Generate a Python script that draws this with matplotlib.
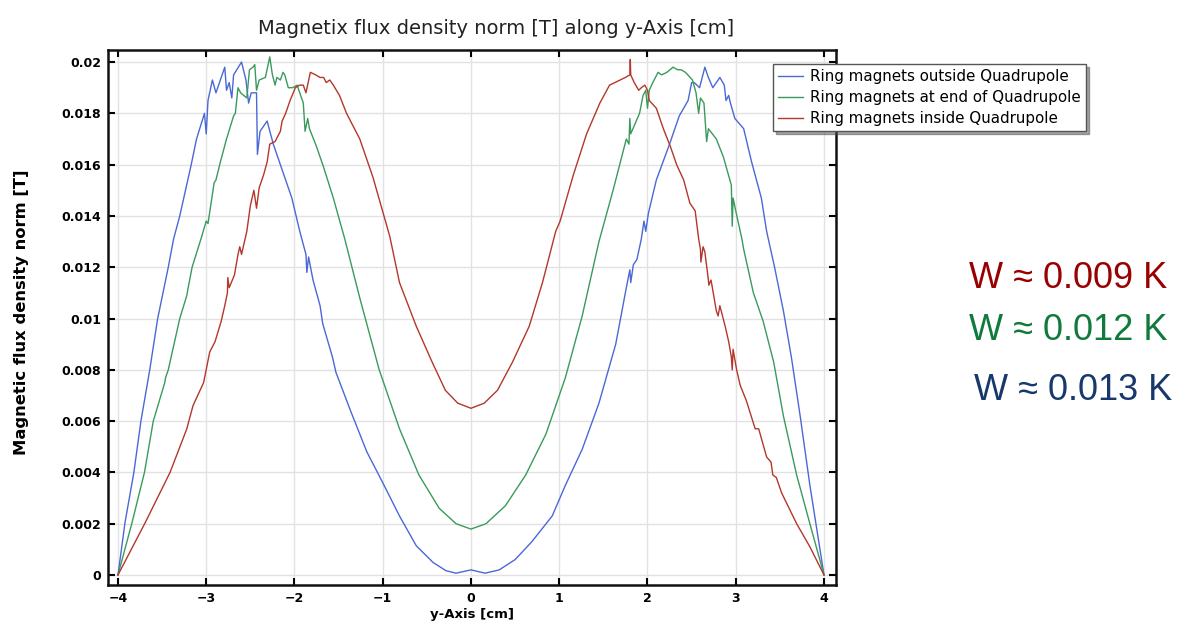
import numpy as np
import matplotlib
matplotlib.use('Agg')
import matplotlib.pyplot as plt
from matplotlib.ticker import FuncFormatter

# Ring magnets outside Quadrupole (blue)
x_out = [-4.0, -3.92, -3.82, -3.74, -3.64, -3.55, -3.43, -3.37, -3.30, -3.17, -3.11, -3.02, -3.00, -2.98,
         -2.93, -2.89, -2.82, -2.79, -2.77, -2.74, -2.71, -2.69, -2.60, -2.55, -2.52, -2.49, -2.43, -2.42,
         -2.39, -2.31, -2.24, -2.15, -2.03, -1.94, -1.87, -1.86, -1.84, -1.79, -1.71, -1.68, -1.57, -1.53,
         -1.37, -1.18, -1.00, -0.81, -0.62, -0.43, -0.285, -0.17, 0.0, 0.16, 0.32, 0.50, 0.69, 0.92, 1.07,
         1.26, 1.45, 1.64, 1.76, 1.80, 1.81, 1.84, 1.88, 1.93, 1.96, 1.98, 2.01, 2.10, 2.25, 2.36, 2.46,
         2.50, 2.53, 2.56, 2.59, 2.65, 2.69, 2.74, 2.78, 2.82, 2.87, 2.89, 2.92, 2.94, 2.99, 3.09, 3.18,
         3.29, 3.35, 3.44, 3.54, 3.63, 3.73, 3.84, 4.0]
b_out = [0, 0.00205, 0.0040, 0.0060, 0.0080, 0.0100, 0.0120, 0.0131, 0.0140, 0.0160, 0.0170, 0.0180, 0.0172, 0.0185,
         0.0193, 0.0188, 0.0195, 0.0198, 0.0189, 0.0192, 0.0186, 0.0195, 0.0200, 0.0193, 0.0184, 0.0188, 0.0188, 0.0164,
         0.0173, 0.0177, 0.0168, 0.0159, 0.0147, 0.0134, 0.0125, 0.0118, 0.0124, 0.0115, 0.0105, 0.0098, 0.0085, 0.0079,
         0.00645, 0.0048, 0.0036, 0.0023, 0.00114, 0.00049, 0.00017, 0.00007, 0.0002, 0.00007, 0.0002, 0.0006, 0.0013, 0.0023, 0.0035,
         0.0049, 0.0067, 0.0090, 0.0112, 0.0119, 0.0114, 0.0121, 0.0123, 0.0131, 0.0138, 0.0134, 0.0141, 0.0154, 0.0168, 0.0179, 0.0185,
         0.0192, 0.0192, 0.0191, 0.0190, 0.0198, 0.0194, 0.0190, 0.0192, 0.0194, 0.0191, 0.0185, 0.0187, 0.0184, 0.0178, 0.0174, 0.0161,
         0.0147, 0.0134, 0.0120, 0.0103, 0.0085, 0.0062, 0.0035, 0]

# Ring magnets at end of Quadrupole (green)
x_end = [-4.0, -3.84, -3.70, -3.60, -3.47, -3.46, -3.43, -3.30, -3.22, -3.21, -3.16, -3.06, -3.00, -2.98, -2.91,
         -2.89, -2.84, -2.77, -2.69, -2.67, -2.64, -2.61, -2.54, -2.51, -2.47, -2.45, -2.43, -2.40, -2.33, -2.28,
         -2.25, -2.22, -2.20, -2.16, -2.13, -2.11, -2.07, -2.02, -1.97, -1.90, -1.88, -1.85, -1.83, -1.75, -1.67,
         -1.56, -1.43, -1.26, -1.04, -0.81, -0.59, -0.36, -0.17, 0.0, 0.17, 0.39, 0.62, 0.85, 1.07, 1.26, 1.45,
         1.61, 1.76, 1.79, 1.80, 1.81, 1.86, 1.91, 1.95, 1.98, 2.00, 2.02, 2.06, 2.12, 2.16, 2.22, 2.29, 2.34,
         2.38, 2.43, 2.51, 2.55, 2.58, 2.60, 2.64, 2.67, 2.69, 2.78, 2.86, 2.95, 2.96, 2.97, 3.00, 3.07, 3.09,
         3.20, 3.31, 3.43, 3.54, 3.69, 3.84, 4.0]
b_end = [0, 0.00205, 0.0040, 0.0060, 0.0075, 0.0077, 0.0080, 0.0100, 0.0109, 0.0111, 0.0120, 0.0131, 0.0138, 0.0137, 0.0153,
         0.0154, 0.0161, 0.0170, 0.0179, 0.0180, 0.0190, 0.0188, 0.0186, 0.0197, 0.0198, 0.0199, 0.0189, 0.0193, 0.0194, 0.0202,
         0.0195, 0.0191, 0.0194, 0.0193, 0.0196, 0.0195, 0.0190, 0.0190, 0.0191, 0.0184, 0.0173, 0.0178, 0.0174, 0.0167, 0.0159,
         0.0147, 0.0131, 0.0108, 0.0080, 0.0057, 0.0039, 0.0026, 0.0020, 0.00179, 0.0020, 0.0027, 0.0039, 0.0055, 0.0077, 0.0101, 0.0130,
         0.0150, 0.0170, 0.0168, 0.0178, 0.0172, 0.0176, 0.0180, 0.0187, 0.0189, 0.0182, 0.0189, 0.0192, 0.0196, 0.0195, 0.0196, 0.0198, 0.0197,
         0.0197, 0.0196, 0.0193, 0.0188, 0.0180, 0.0186, 0.0184, 0.0169, 0.0174, 0.0170, 0.0163, 0.0152, 0.0136, 0.0147, 0.0142, 0.0131, 0.0127,
         0.0110, 0.0099, 0.0083, 0.0062, 0.0039, 0.0020, 0]

# Ring magnets inside Quadrupole (red)
x_in = [-4.0, -3.69, -3.41, -3.22, -3.15, -3.03, -2.96, -2.90, -2.83, -2.79, -2.76, -2.755, -2.74, -2.68, -2.64,
        -2.62, -2.60, -2.54, -2.50, -2.46, -2.43, -2.40, -2.35, -2.31, -2.28, -2.22, -2.16, -2.14, -2.10, -2.05,
        -1.99, -1.94, -1.90, -1.87, -1.82, -1.76, -1.71, -1.67, -1.64, -1.60, -1.56, -1.49, -1.41, -1.26, -1.11,
        -0.92, -0.81, -0.62, -0.44, -0.29, -0.15, 0.0, 0.15, 0.30, 0.47, 0.66, 0.81, 0.96, 1.01, 1.16, 1.31,
        1.46, 1.57, 1.69, 1.75, 1.80, 1.805, 1.81, 1.85, 1.90, 1.93, 1.97, 2.00, 2.02, 2.10, 2.18, 2.26, 2.33,
        2.41, 2.48, 2.54, 2.58, 2.60, 2.605, 2.63, 2.65, 2.69, 2.695, 2.72, 2.78, 2.80, 2.82, 2.88, 2.92, 2.95,
        2.96, 2.97, 3.01, 3.05, 3.12, 3.22, 3.26, 3.35, 3.40, 3.42, 3.46, 3.52, 3.69, 3.84, 4.0]
b_in = [0, 0.00205, 0.0040, 0.0057, 0.0066, 0.0075, 0.0087, 0.0091, 0.0099, 0.0105, 0.0110, 0.0116, 0.0112, 0.0117, 0.0125,
        0.0128, 0.0125, 0.0134, 0.0144, 0.0150, 0.0143, 0.0151, 0.0156, 0.0161, 0.0168, 0.0169, 0.0173, 0.0177, 0.0180, 0.0185,
        0.0190, 0.0191, 0.0191, 0.0188, 0.0196, 0.0195, 0.0194, 0.0194, 0.0192, 0.0193, 0.0191, 0.0187, 0.0180, 0.0170, 0.0155,
        0.0132, 0.0114, 0.0097, 0.0083, 0.0072, 0.0067, 0.0065, 0.0067, 0.0072, 0.0083, 0.0097, 0.0114, 0.0134, 0.0138, 0.0156, 0.0172,
        0.0184, 0.0191, 0.0193, 0.0194, 0.0195, 0.0201, 0.0195, 0.0192, 0.0189, 0.0190, 0.0191, 0.0189, 0.0185, 0.0182, 0.0174, 0.0167, 0.0160,
        0.0154, 0.0145, 0.0142, 0.0131, 0.0127, 0.0122, 0.0128, 0.0126, 0.0115, 0.0113, 0.0115, 0.0103, 0.0101, 0.0105, 0.0097, 0.0091, 0.0085,
        0.0080, 0.0088, 0.0080, 0.0074, 0.0068, 0.0057, 0.0057, 0.0046, 0.0044, 0.0039, 0.0038, 0.0032, 0.0020, 0.0011, 0]

labels = ['Ring magnets outside Quadrupole', 'Ring magnets at end of Quadrupole', 'Ring magnets inside Quadrupole']
colors = ['#4a68d6', '#3a9a5c', '#b3372b']
w_texts = ['W ≈ 0.009 K', 'W ≈ 0.012 K', 'W ≈ 0.013 K']
w_colors = ['#990000', '#0f7a3c', '#17386a']

fig = plt.figure(figsize=(11.83, 6.35), dpi=100)
ax = fig.add_axes([108/1183, 1-585/635, (836-108)/1183, (585-50)/635])

ax.plot(x_out, b_out, color=colors[0], lw=1.0, label=labels[0])
ax.plot(x_end, b_end, color=colors[1], lw=1.0, label=labels[1])
ax.plot(x_in, b_in, color=colors[2], lw=1.0, label=labels[2])

ax.set_xlim(-4.113, 4.136)
ax.set_ylim(-0.00039, 0.02047)
ax.set_xticks(np.arange(-4, 5, 1))
ax.set_yticks(np.arange(0, 0.0201, 0.002))
ax.yaxis.set_major_formatter(FuncFormatter(lambda v, p: '0' if abs(v) < 1e-9 else f'{v:g}'))
ax.grid(True, color='#e2e2e2', lw=1.0)
ax.set_axisbelow(True)
ax.tick_params(direction='in', top=True, right=True, length=5, width=1.5, labelsize=9, pad=5)
for lab in ax.get_xticklabels() + ax.get_yticklabels():
    lab.set_fontweight('bold')
for s in ax.spines.values():
    s.set_linewidth(1.8)
    s.set_color('#111111')

ax.set_xlabel('y-Axis [cm]', fontsize=9.5, fontweight='bold', labelpad=2)
ax.set_ylabel('Magnetic flux density norm [T]', fontsize=11.8, fontweight='bold', labelpad=6)
ax.yaxis.set_label_coords(-0.108, 0.51)

fig.text(496/1183, 1-28/635, 'Magnetix flux density norm [T] along y-Axis [cm]',
         ha='center', va='center', fontsize=14, color='#222222')

leg = ax.legend(loc='upper left', bbox_to_anchor=(773/1183, 1-64/635), bbox_transform=fig.transFigure,
                fontsize=10.9, frameon=True, fancybox=False, shadow=True, handlelength=1.6,
                handletextpad=0.5, borderpad=0.35, labelspacing=0.38, borderaxespad=0)
leg.get_frame().set_edgecolor('#555555')
leg.get_frame().set_linewidth(1.0)

w_pos = [(1068, 278), (1068, 330), (1073, 390)]
for t, c, (px, py) in zip(w_texts, w_colors, w_pos):
    fig.text(px/1183, 1-py/635, t, ha='center', va='center', fontsize=26,
             color=c, family=['Liberation Sans', 'DejaVu Sans'])

fig.savefig('out.png', dpi=100)
